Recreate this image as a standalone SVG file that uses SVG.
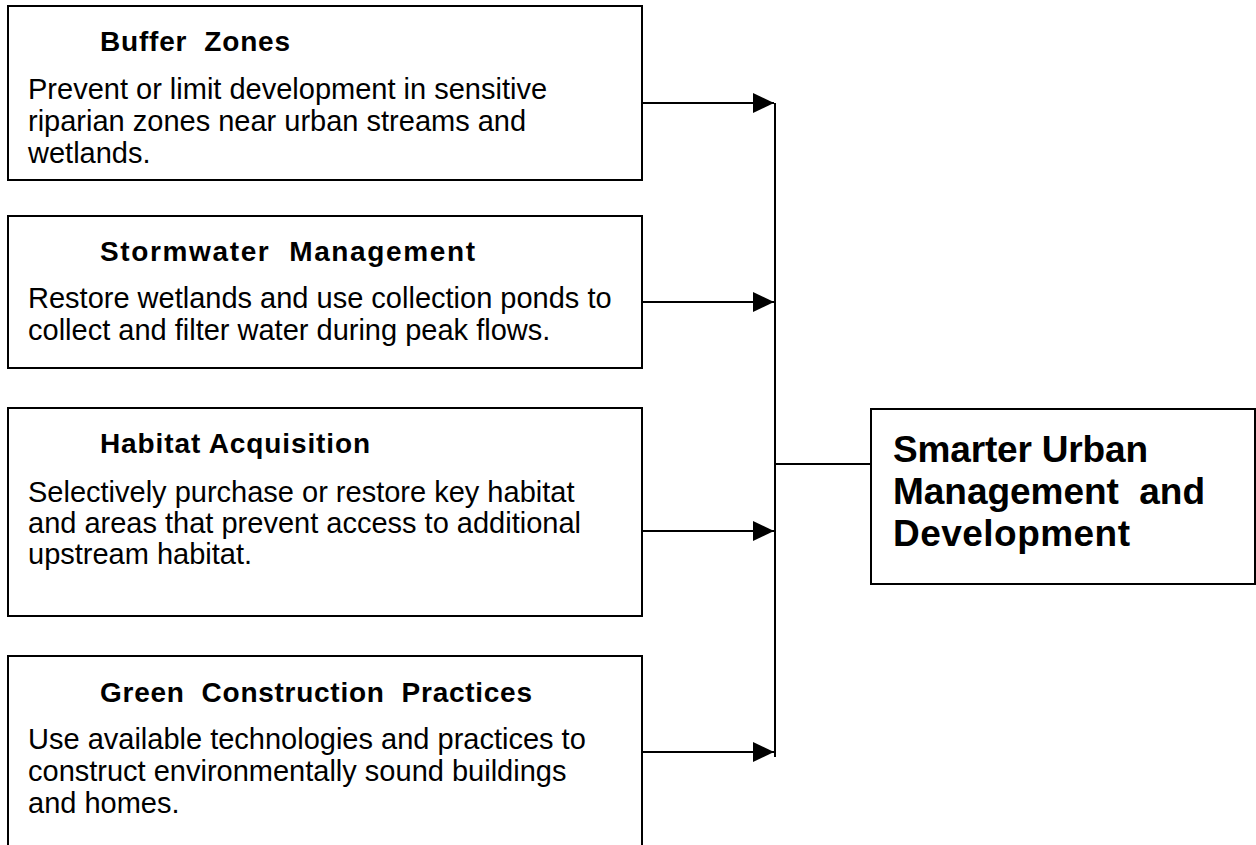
<svg xmlns="http://www.w3.org/2000/svg" width="1256" height="845" viewBox="0 0 1256 845">
  <defs>
    <marker id="arrow" markerWidth="22" markerHeight="20" refX="21" refY="10" orient="auto" markerUnits="userSpaceOnUse">
      <path d="M0,0 L21,10 L0,20 Z" fill="#000"/>
    </marker>
    <style>
      .box { fill: #fff; stroke: #000; stroke-width: 2; }
      .title { font-family: "Liberation Sans", Arial, sans-serif; font-weight: bold; font-size: 28px; fill: #000; }
      .body { font-family: "Liberation Sans", Arial, sans-serif; font-size: 29px; fill: #000; }
      .goal { font-family: "Liberation Sans", Arial, sans-serif; font-weight: bold; font-size: 37px; fill: #000; }
      .wire { fill: none; stroke: #000; stroke-width: 2; }
    </style>
  </defs>
  <rect width="1256" height="845" fill="#fff"/>

  <g id="buffer-zones">
    <rect class="box" x="8" y="6" width="634" height="174"/>
    <text class="title" x="100" y="51" textLength="190" lengthAdjust="spacing" xml:space="preserve">Buffer  Zones</text>
    <text class="body" x="28" y="99">Prevent or limit development in sensitive</text>
    <text class="body" x="28" y="131">riparian zones near urban streams and</text>
    <text class="body" x="28" y="163">wetlands.</text>
  </g>

  <g id="stormwater-management">
    <rect class="box" x="8" y="216" width="634" height="152"/>
    <text class="title" x="100" y="261" textLength="375" lengthAdjust="spacing" xml:space="preserve">Stormwater  Management</text>
    <text class="body" x="28" y="308">Restore wetlands and use collection ponds to</text>
    <text class="body" x="28" y="340">collect and filter water during peak flows.</text>
  </g>

  <g id="habitat-acquisition">
    <rect class="box" x="8" y="408" width="634" height="208"/>
    <text class="title" x="100" y="453" textLength="270" lengthAdjust="spacing">Habitat Acquisition</text>
    <text class="body" x="28" y="502">Selectively purchase or restore key habitat</text>
    <text class="body" x="28" y="533">and areas that prevent access to additional</text>
    <text class="body" x="28" y="564">upstream habitat.</text>
  </g>

  <g id="green-construction">
    <rect class="box" x="8" y="656" width="634" height="210"/>
    <text class="title" x="100" y="702" textLength="432" lengthAdjust="spacing" xml:space="preserve">Green  Construction  Practices</text>
    <text class="body" x="28" y="749">Use available technologies and practices to</text>
    <text class="body" x="28" y="781">construct environmentally sound buildings</text>
    <text class="body" x="28" y="813">and homes.</text>
  </g>

  <g id="smarter-urban-development">
    <rect class="box" x="871" y="409" width="384" height="175"/>
    <text class="goal" x="893" y="462" textLength="255" lengthAdjust="spacing">Smarter Urban</text>
    <text class="goal" x="893" y="504" textLength="312" lengthAdjust="spacing" xml:space="preserve">Management  and</text>
    <text class="goal" x="893" y="546" textLength="237" lengthAdjust="spacing">Development</text>
  </g>

  <g id="connectors">
    <line class="wire" x1="642" y1="103" x2="774" y2="103" marker-end="url(#arrow)"/>
    <line class="wire" x1="642" y1="302" x2="774" y2="302" marker-end="url(#arrow)"/>
    <line class="wire" x1="642" y1="531" x2="774" y2="531" marker-end="url(#arrow)"/>
    <line class="wire" x1="642" y1="752" x2="774" y2="752" marker-end="url(#arrow)"/>
    <line class="wire" x1="775" y1="103" x2="775" y2="757"/>
    <line class="wire" x1="775" y1="464" x2="871" y2="464"/>
  </g>
</svg>
